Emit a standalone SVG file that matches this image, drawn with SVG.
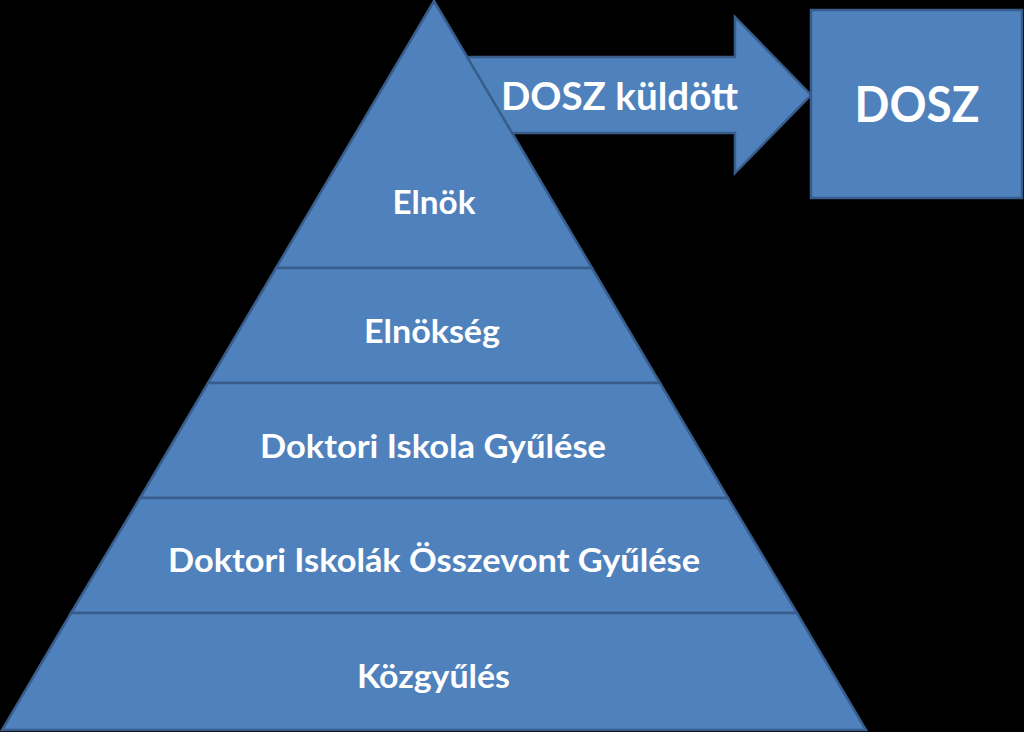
<svg xmlns="http://www.w3.org/2000/svg" width="1024" height="732" viewBox="0 0 1024 732">
<style>
.shape{fill:#4F81BD;stroke:#385D8A;stroke-width:2.5;stroke-linejoin:miter}
.lbl{font-family:Lato,"Open Sans","Liberation Sans",sans-serif;font-weight:bold;fill:#FFFFFF;text-anchor:middle}
</style>
<rect x="0" y="0" width="1024" height="732" fill="#000000"/>
<g id="connectors">
<g id="arrow-dosz-kuldott">
<polygon class="shape" points="455,57 735,57 735,17 811,95 735,173 735,133 455,133"/>
<text class="lbl" x="619.5" y="110" font-size="38" textLength="237" lengthAdjust="spacingAndGlyphs">DOSZ küldött</text>
</g>
</g>
<g id="node-elnok">
<polygon class="shape" points="434,1 592,268 276,268"/>
<text class="lbl" x="434" y="214" font-size="33" textLength="83" lengthAdjust="spacingAndGlyphs">Elnök</text>
</g>
<g id="node-elnokseg">
<polygon class="shape" points="276,268 592,268 660,383 208,383"/>
<text class="lbl" x="432" y="343" font-size="33" textLength="136" lengthAdjust="spacingAndGlyphs">Elnökség</text>
</g>
<g id="node-di-gyulese">
<polygon class="shape" points="208,383 660,383 728,498 140,498"/>
<text class="lbl" x="433" y="458" font-size="33" textLength="346" lengthAdjust="spacingAndGlyphs">Doktori Iskola Gyűlése</text>
</g>
<g id="node-dio-gyulese">
<polygon class="shape" points="140,498 728,498 797,613 71,613"/>
<text class="lbl" x="434" y="572" font-size="33" textLength="532" lengthAdjust="spacingAndGlyphs">Doktori Iskolák Összevont Gyűlése</text>
</g>
<g id="node-kozgyules">
<polygon class="shape" points="71,613 797,613 866,730 2,730"/>
<text class="lbl" x="433.5" y="688" font-size="33" textLength="153" lengthAdjust="spacingAndGlyphs">Közgyűlés</text>
</g>
<g id="node-dosz">
<rect class="shape" x="811" y="10" width="211" height="188"/>
<text class="lbl" x="917" y="122" font-size="49" textLength="125" lengthAdjust="spacingAndGlyphs">DOSZ</text>
</g>
</svg>
